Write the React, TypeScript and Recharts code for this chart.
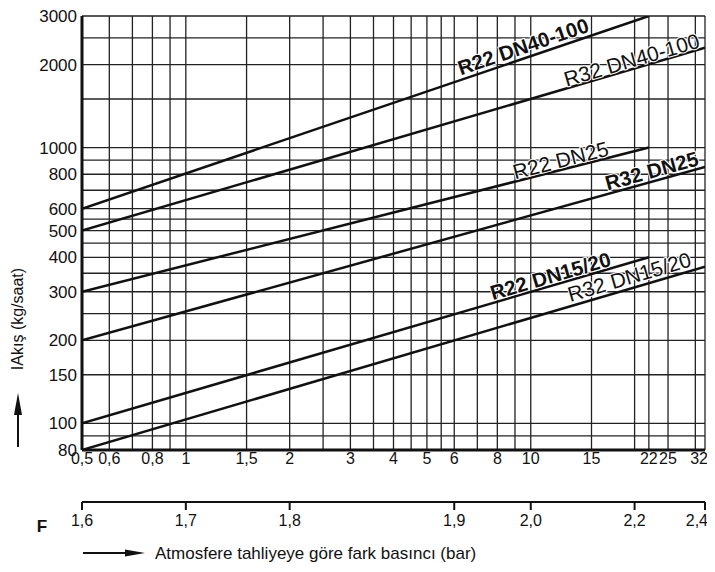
import React from "react";
import {
  CartesianGrid,
  Line,
  LineChart,
  ReferenceDot,
  XAxis,
  YAxis,
} from "recharts";

// pressure difference (bar) - log axis
const pressureLabels = [0.5, 0.6, 0.8, 1, 1.5, 2, 3, 4, 5, 6, 8, 10, 15, 22, 25, 32];
const pressureGrid = [
  0.5, 0.6, 0.7, 0.8, 0.9, 1, 1.5, 2, 2.5, 3, 3.5, 4, 4.5, 5, 5.5, 6, 7, 8, 9,
  10, 15, 20, 22, 25, 30, 32,
];

// flow (kg/saat) - log axis
const flowLabels = [80, 100, 150, 200, 300, 400, 500, 600, 800, 1000, 2000, 3000];
const flowGrid = [
  80, 90, 100, 150, 200, 250, 300, 350, 400, 450, 500, 550, 600, 700, 800, 900,
  1000, 1500, 2000, 2500, 3000,
];

// F factor scale, placed at matching pressure values
const fPressure = [0.5, 1, 2, 6, 10, 20, 32];
const fLabels = ["1,6", "1,7", "1,8", "1,9", "2,0", "2,2", "2,4"];

const r22Dn40 = [
  { pressure: 0.5, flow: 600 },
  { pressure: 22, flow: 3000 },
];
const r32Dn40 = [
  { pressure: 0.5, flow: 500 },
  { pressure: 32, flow: 2300 },
];
const r22Dn25 = [
  { pressure: 0.5, flow: 300 },
  { pressure: 22, flow: 1000 },
];
const r32Dn25 = [
  { pressure: 0.5, flow: 200 },
  { pressure: 32, flow: 850 },
];
const r22Dn15 = [
  { pressure: 0.5, flow: 100 },
  { pressure: 22, flow: 400 },
];
const r32Dn15 = [
  { pressure: 0.5, flow: 80 },
  { pressure: 32, flow: 370 },
];

// R22 lines sit on the main pressure axis, R32 lines on the F axis (same log scale)
const r22Series = [r22Dn40, r22Dn25, r22Dn15];
const r32Series = [r32Dn40, r32Dn25, r32Dn15];

const names = [
  { text: "R22 DN40-100", bold: true, x: 9.5, y: 2330, angle: -18.8 },
  { text: "R32 DN40-100", bold: false, x: 19.6, y: 2080, angle: -16.4 },
  { text: "R22 DN25", bold: false, x: 12.2, y: 900, angle: -14.3 },
  { text: "R32 DN25", bold: true, x: 22.4, y: 825, angle: -15.5 },
  { text: "R22 DN15/20", bold: true, x: 11.4, y: 343, angle: -16.3 },
  { text: "R32 DN15/20", bold: false, x: 19.3, y: 340, angle: -16.4 },
];

const FONT = '"Liberation Sans", Arial, sans-serif';
const comma = (v: number) => String(v).replace(".", ",");

const nameLabel = (n: any) => (props: any) => {
  const { x, y } = props.viewBox;
  return (
    <text
      x={x}
      y={y}
      transform={`rotate(${n.angle} ${x} ${y})`}
      textAnchor="middle"
      dominantBaseline="central"
      fontFamily={FONT}
      fontSize={n.bold ? 20.5 : 21}
      fontWeight={n.bold ? 700 : 400}
      fill="#111"
      stroke="#fff"
      strokeWidth={2}
      paintOrder="stroke"
    >
      {n.text}
    </text>
  );
};

// bottom tick: the last one is right-aligned so it stays inside the page
const bottomTick = (format: (v: number) => string) => (props: any) => {
  const { x, y, payload } = props;
  const last = payload.value === 32;
  return (
    <text
      x={last ? x + 3 : x}
      y={y}
      dy="0.71em"
      textAnchor={last ? "end" : "middle"}
      fontFamily={FONT}
      fontSize={16}
      fill="#111"
    >
      {format(payload.value)}
    </text>
  );
};

export default function App() {
  return (
    <div
      style={{
        position: "relative",
        width: 715,
        height: 556,
        marginLeft: -8,
        fontFamily: FONT,
      }}
    >
      <LineChart
        width={715}
        height={556}
        margin={{ top: 8, right: 10, left: 8, bottom: 32 }}
      >
        <CartesianGrid stroke="#222" strokeWidth={1.3} />
        <XAxis
          type="number"
          dataKey="pressure"
          scale="log"
          domain={[0.5, 32]}
          allowDataOverflow
          ticks={pressureGrid}
          interval={0}
          height={52}
          tickSize={0}
          tickMargin={3}
          tickLine={false}
          axisLine={{ stroke: "#111", strokeWidth: 3 }}
          tick={bottomTick((v) => (pressureLabels.includes(v) ? comma(v) : ""))}
        />
        <XAxis
          xAxisId="f"
          type="number"
          dataKey="pressure"
          scale="log"
          domain={[0.5, 32]}
          allowDataOverflow
          ticks={fPressure}
          interval={0}
          height={30}
          tickSize={8}
          tickMargin={5}
          tickLine={{ stroke: "#111", strokeWidth: 2 }}
          axisLine={{ stroke: "#111", strokeWidth: 2 }}
          tick={bottomTick((v) => fLabels[fPressure.indexOf(v)] ?? "")}
        />
        <YAxis
          type="number"
          scale="log"
          domain={[80, 3000]}
          allowDataOverflow
          ticks={flowGrid}
          interval={0}
          tickFormatter={(v: number) => (flowLabels.includes(v) ? String(v) : "")}
          width={74}
          tickSize={0}
          tickMargin={5}
          tickLine={false}
          axisLine={{ stroke: "#111", strokeWidth: 3 }}
          tick={{ fill: "#111", fontSize: 17, fontFamily: FONT }}
        />
        {r22Series.map((d, i) => (
          <Line
            key={"r22" + i}
            data={d}
            dataKey="flow"
            type="linear"
            stroke="#111"
            strokeWidth={2.5}
            dot={false}
            activeDot={false}
            isAnimationActive={false}
          />
        ))}
        {r32Series.map((d, i) => (
          <Line
            key={"r32" + i}
            xAxisId="f"
            data={d}
            dataKey="flow"
            type="linear"
            stroke="#111"
            strokeWidth={2.5}
            dot={false}
            activeDot={false}
            isAnimationActive={false}
          />
        ))}
        {names.map((n) => (
          <ReferenceDot
            key={n.text}
            x={n.x}
            y={n.y}
            r={0}
            fill="none"
            stroke="none"
            label={{ content: nameLabel(n) }}
          />
        ))}
      </LineChart>
      <svg
        width={715}
        height={556}
        style={{ position: "absolute", left: 0, top: 0, pointerEvents: "none" }}
      >
        <text
          x={17}
          y={311}
          transform="rotate(-90 17 311)"
          textAnchor="middle"
          dominantBaseline="central"
          fontFamily={FONT}
          fontSize={16}
          fill="#111"
        >
          IAkış (kg/saat)
        </text>
        <line x1={18} y1={439} x2={18} y2={404} stroke="#111" strokeWidth={2} />
        <polygon points="18,385 14,407 22,407" fill="#111" />
        <text
          x={42}
          y={518}
          textAnchor="middle"
          dominantBaseline="central"
          fontFamily={FONT}
          fontSize={17}
          fontWeight={700}
          fill="#111"
        >
          F
        </text>
        <line x1={83} y1={545} x2={128} y2={545} stroke="#111" strokeWidth={2} />
        <polygon points="145,545 125,541.5 125,548.5" fill="#111" />
        <text
          x={155}
          y={545}
          dominantBaseline="central"
          fontFamily={FONT}
          fontSize={17}
          fill="#111"
        >
          Atmosfere tahliyeye göre fark basıncı (bar)
        </text>
      </svg>
    </div>
  );
}
